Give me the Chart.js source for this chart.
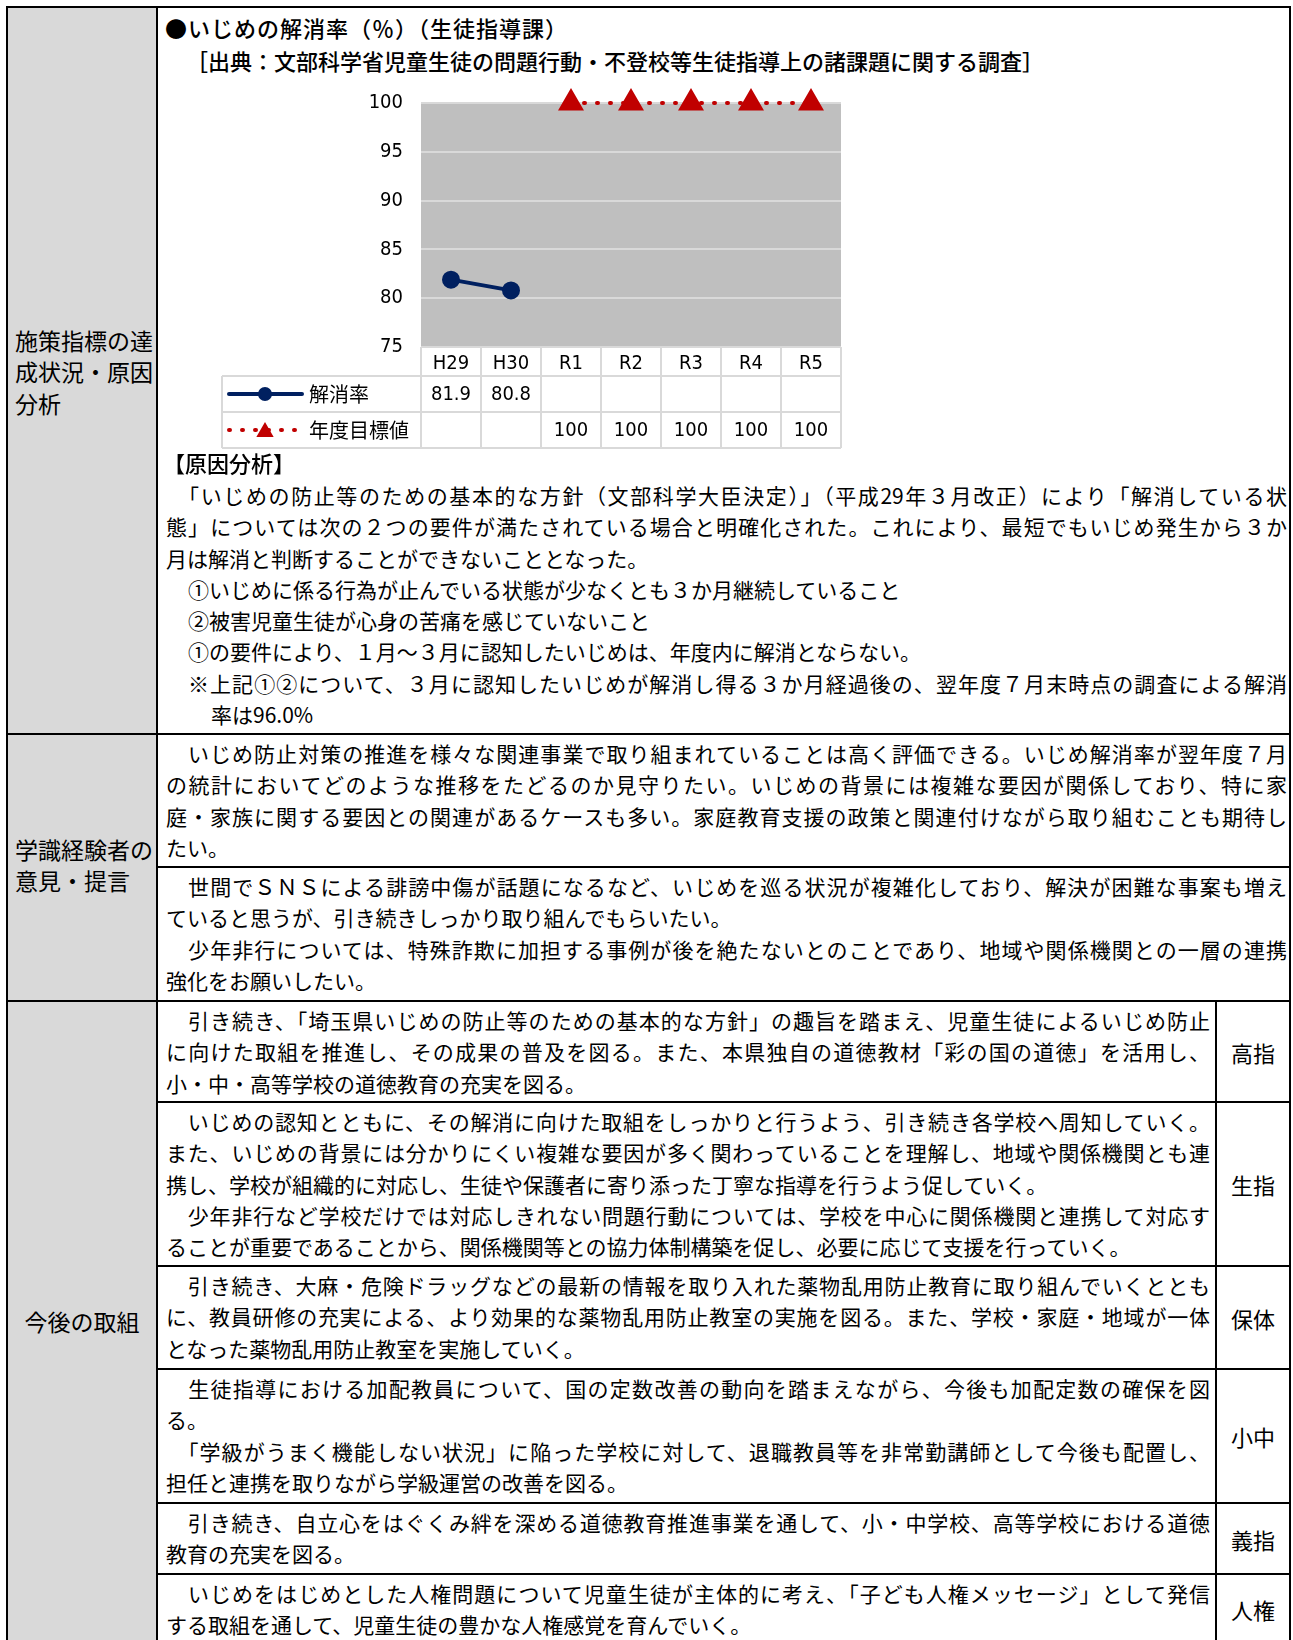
<!DOCTYPE html>
<html lang="ja">
<head>
<meta charset="utf-8">
<script src="https://cdn.jsdelivr.net/npm/chart.js@4.4.1/dist/chart.umd.min.js"></script>
<style>
  body { margin: 0; background: #fff; }
  #page { position: relative; width: 1293px; height: 1640px; overflow: hidden; background: #fff;
          font-family: "Noto Sans CJK JP", sans-serif; color: #000; }
  .ln-h, .ln-v { position: absolute; background: #000; }
  .side { position: absolute; left: 8px; top: 8px; width: 148px; height: 1640px; background: #d9d9d9; }
  .lab { position: absolute; font-size: 23px; line-height: 31.4px; }
  .txt { position: absolute; font-size: 21px; line-height: 31.3px; }
  .j { text-align: justify; text-align-last: justify; }
  .i1 { padding-left: 22px; }
  .i2 { padding-left: 45px; }
  .code { position: absolute; left: 1217px; width: 72px; display: flex; align-items: center;
          justify-content: center; font-size: 22px; }
  .head { position: absolute; font-size: 22px; font-weight: 500; line-height: 31px; white-space: nowrap; }
  #chart { position: absolute; left: 210px; top: 85px; }
</style>
</head>
<body>
<div id="page">
  <div class="side"></div>

  <!-- table rules -->
  <div class="ln-h" style="left:6px;top:6px;width:1285px;height:2px"></div>
  <div class="ln-h" style="left:6px;top:733px;width:1285px;height:2px"></div>
  <div class="ln-h" style="left:156px;top:866px;width:1135px;height:2px"></div>
  <div class="ln-h" style="left:6px;top:1000px;width:1285px;height:2px"></div>
  <div class="ln-h" style="left:156px;top:1101px;width:1135px;height:2px"></div>
  <div class="ln-h" style="left:156px;top:1265px;width:1135px;height:2px"></div>
  <div class="ln-h" style="left:156px;top:1368px;width:1135px;height:2px"></div>
  <div class="ln-h" style="left:156px;top:1502px;width:1135px;height:2px"></div>
  <div class="ln-h" style="left:156px;top:1573px;width:1135px;height:2px"></div>
  <div class="ln-v" style="left:6px;top:6px;width:2px;height:1640px"></div>
  <div class="ln-v" style="left:156px;top:6px;width:2px;height:1640px"></div>
  <div class="ln-v" style="left:1289px;top:6px;width:2px;height:1640px"></div>
  <div class="ln-v" style="left:1215px;top:1000px;width:2px;height:640px"></div>

  <!-- left column labels -->
  <div class="lab" style="left:15px;top:325px">施策指標の達<br>成状況・原因<br>分析</div>
  <div class="lab" style="left:15px;top:834px">学識経験者の<br>意見・提言</div>
  <div class="lab" style="left:8px;top:1306px;width:148px;text-align:center">今後の取組</div>

  <!-- row 1 -->
  <div class="head" style="left:165px;top:12px;letter-spacing:1px">●いじめの解消率（％）（生徒指導課）</div>
  <div class="head" style="left:186px;top:45px">［出典：文部科学省児童生徒の問題行動・不登校等生徒指導上の諸課題に関する調査］</div>
  <canvas id="chart" width="646" height="370"></canvas>
  <div class="head" style="left:163px;top:447px">【原因分析】</div>
  <div class="txt" style="left:166px;top:480px;width:1121px">
    <div class="j">　「いじめの防止等のための基本的な方針（文部科学大臣決定）」（平成29年３月改正）により「解消している状</div>
    <div class="j">態」については次の２つの要件が満たされている場合と明確化された。これにより、最短でもいじめ発生から３か</div>
    <div>月は解消と判断することができないこととなった。</div>
    <div class="i1">①いじめに係る行為が止んでいる状態が少なくとも３か月継続していること</div>
    <div class="i1">②被害児童生徒が心身の苦痛を感じていないこと</div>
    <div class="i1">①の要件により、１月～３月に認知したいじめは、年度内に解消とならない。</div>
    <div class="i1 j">※上記①②について、３月に認知したいじめが解消し得る３か月経過後の、翌年度７月末時点の調査による解消</div>
    <div class="i2">率は96.0%</div>
  </div>

  <!-- row 2 -->
  <div class="txt" style="left:166px;top:738px;width:1121px">
    <div class="j">　いじめ防止対策の推進を様々な関連事業で取り組まれていることは高く評価できる。いじめ解消率が翌年度７月</div>
    <div class="j">の統計においてどのような推移をたどるのか見守りたい。いじめの背景には複雑な要因が関係しており、特に家</div>
    <div class="j">庭・家族に関する要因との関連があるケースも多い。家庭教育支援の政策と関連付けながら取り組むことも期待し</div>
    <div>たい。</div>
  </div>
  <div class="txt" style="left:166px;top:871px;width:1121px">
    <div class="j">　世間でＳＮＳによる誹謗中傷が話題になるなど、いじめを巡る状況が複雑化しており、解決が困難な事案も増え</div>
    <div>ていると思うが、引き続きしっかり取り組んでもらいたい。</div>
    <div class="j">　少年非行については、特殊詐欺に加担する事例が後を絶たないとのことであり、地域や関係機関との一層の連携</div>
    <div>強化をお願いしたい。</div>
  </div>

  <!-- row 3 -->
  <div class="txt" style="left:166px;top:1005px;width:1044px">
    <div class="j">　引き続き、「埼玉県いじめの防止等のための基本的な方針」の趣旨を踏まえ、児童生徒によるいじめ防止</div>
    <div class="j">に向けた取組を推進し、その成果の普及を図る。また、本県独自の道徳教材「彩の国の道徳」を活用し、</div>
    <div>小・中・高等学校の道徳教育の充実を図る。</div>
  </div>
  <div class="code" style="top:1003px;height:98px">高指</div>
  <div class="txt" style="left:166px;top:1106px;width:1044px">
    <div class="j">　いじめの認知とともに、その解消に向けた取組をしっかりと行うよう、引き続き各学校へ周知していく。</div>
    <div class="j">また、いじめの背景には分かりにくい複雑な要因が多く関わっていることを理解し、地域や関係機関とも連</div>
    <div>携し、学校が組織的に対応し、生徒や保護者に寄り添った丁寧な指導を行うよう促していく。</div>
    <div class="j">　少年非行など学校だけでは対応しきれない問題行動については、学校を中心に関係機関と連携して対応す</div>
    <div>ることが重要であることから、関係機関等との協力体制構築を促し、必要に応じて支援を行っていく。</div>
  </div>
  <div class="code" style="top:1103px;height:162px">生指</div>
  <div class="txt" style="left:166px;top:1270px;width:1044px">
    <div class="j">　引き続き、大麻・危険ドラッグなどの最新の情報を取り入れた薬物乱用防止教育に取り組んでいくととも</div>
    <div class="j">に、教員研修の充実による、より効果的な薬物乱用防止教室の実施を図る。また、学校・家庭・地域が一体</div>
    <div>となった薬物乱用防止教室を実施していく。</div>
  </div>
  <div class="code" style="top:1267px;height:101px">保体</div>
  <div class="txt" style="left:166px;top:1373px;width:1044px">
    <div class="j">　生徒指導における加配教員について、国の定数改善の動向を踏まえながら、今後も加配定数の確保を図</div>
    <div>る。</div>
    <div class="j">　「学級がうまく機能しない状況」に陥った学校に対して、退職教員等を非常勤講師として今後も配置し、</div>
    <div>担任と連携を取りながら学級運営の改善を図る。</div>
  </div>
  <div class="code" style="top:1370px;height:132px">小中</div>
  <div class="txt" style="left:166px;top:1507px;width:1044px">
    <div class="j">　引き続き、自立心をはぐくみ絆を深める道徳教育推進事業を通して、小・中学校、高等学校における道徳</div>
    <div>教育の充実を図る。</div>
  </div>
  <div class="code" style="top:1504px;height:69px">義指</div>
  <div class="txt" style="left:166px;top:1578px;width:1044px">
    <div class="j">　いじめをはじめとした人権問題について児童生徒が主体的に考え、「子ども人権メッセージ」として発信</div>
    <div>する取組を通して、児童生徒の豊かな人権感覚を育んでいく。</div>
  </div>
  <div class="code" style="top:1575px;height:68px">人権</div>
</div>

<script>
const years = ['H29', 'H30', 'R1', 'R2', 'R3', 'R4', 'R5'];
const resolvedRate = [81.9, 80.8, null, null, null, null, null];
const targetRate = [null, null, 100, 100, 100, 100, 100];
const seriesNames = ['解消率', '年度目標値'];
const yMin = 75, yMax = 100, yStep = 5;

const NARROW = '"Liberation Sans Narrow", "DejaVu Sans Condensed", "Noto Sans CJK JP", sans-serif';
const JP = '"Noto Sans CJK JP", sans-serif';

// gray plot background
const plotBg = {
    id: 'plotBg',
    beforeDraw(chart) {
        const { ctx, chartArea: a } = chart;
        ctx.save();
        ctx.fillStyle = '#bfbfbf';
        ctx.fillRect(a.left, a.top, a.right - a.left, a.bottom - a.top);
        ctx.restore();
    }
};

// excel style data table under the plot
const dataTable = {
    id: 'dataTable',
    afterDraw(chart) {
        const { ctx, chartArea: a, scales: { x } } = chart;
        const n = chart.data.labels.length;
        const colW = (a.right - a.left) / n;
        const rows = [a.bottom, a.bottom + 29, a.bottom + 65, a.bottom + 101];
        const left = 12;

        ctx.save();
        ctx.strokeStyle = '#d9d9d9';
        ctx.lineWidth = 2;
        ctx.beginPath();
        ctx.moveTo(a.left, rows[0]); ctx.lineTo(a.right, rows[0]);
        for (let r = 1; r < rows.length; r++) {
            ctx.moveTo(left, rows[r]); ctx.lineTo(a.right, rows[r]);
        }
        ctx.moveTo(left, rows[1]); ctx.lineTo(left, rows[3]);
        for (let i = 0; i <= n; i++) {
            const px = i < n ? x.getPixelForValue(i) - colW / 2 : x.getPixelForValue(n - 1) + colW / 2;
            ctx.moveTo(px, rows[0]); ctx.lineTo(px, rows[3]);
        }
        ctx.stroke();

        chart.data.datasets.forEach((ds, r) => {
            const cy = (rows[r + 1] + rows[r + 2]) / 2;
            // legend key
            ctx.save();
            ctx.strokeStyle = ds.borderColor;
            ctx.lineWidth = ds.borderWidth;
            ctx.lineCap = 'round';
            ctx.setLineDash(ds.borderDash || []);
            ctx.beginPath();
            ctx.moveTo(19, cy); ctx.lineTo(92, cy);
            ctx.stroke();
            ctx.restore();
            ctx.fillStyle = ds.pointBackgroundColor;
            ctx.strokeStyle = ds.pointBackgroundColor;
            Chart.helpers.drawPoint(ctx, {
                pointStyle: ds.pointStyle,
                radius: ds.pointStyle === 'triangle' ? 8 : 6,
                rotation: 0,
                borderWidth: 1
            }, 55, cy + (ds.pointStyle === 'triangle' ? 2 : 0));

            ctx.fillStyle = '#000';
            ctx.textBaseline = 'middle';
            ctx.textAlign = 'left';
            ctx.font = '20px ' + JP;
            ctx.fillText(ds.label, 99, cy);

            ctx.textAlign = 'center';
            ctx.font = '20px ' + NARROW;
            ds.data.forEach((v, i) => {
                if (v === null) return;
                const txt = Number.isInteger(v) ? String(v) : v.toFixed(1);
                ctx.fillText(txt, x.getPixelForValue(i), cy + 1);
            });
        });
        ctx.restore();
    }
};

new Chart(document.getElementById('chart'), {
    type: 'line',
    data: {
        labels: years,
        datasets: [{
            label: seriesNames[0],
            data: resolvedRate,
            borderColor: '#002060',
            backgroundColor: '#002060',
            pointBackgroundColor: '#002060',
            pointBorderColor: '#002060',
            borderWidth: 4,
            pointStyle: 'circle',
            pointRadius: 7,
            spanGaps: false
        }, {
            label: seriesNames[1],
            data: targetRate,
            borderColor: '#c00000',
            backgroundColor: '#c00000',
            pointBackgroundColor: '#c00000',
            pointBorderColor: '#c00000',
            borderWidth: 4,
            borderDash: [1, 12],
            borderCapStyle: 'round',
            pointStyle: 'triangle',
            pointRadius: 11,
            clip: false
        }]
    },
    options: {
        responsive: false,
        animation: false,
        devicePixelRatio: 1,
        layout: { padding: { left: 0, top: 18, right: 10, bottom: 79 } },
        plugins: {
            legend: { display: false },
            tooltip: { enabled: false }
        },
        scales: {
            x: {
                offset: true,
                grid: { display: false, drawTicks: false },
                border: { display: false },
                ticks: { color: '#000', padding: 5, font: { size: 20, family: NARROW } },
                afterFit(scale) { scale.height = 29; }
            },
            y: {
                min: yMin,
                max: yMax,
                grid: { color: '#d9d9d9', lineWidth: 2, drawTicks: true, tickLength: 18, tickColor: 'rgba(0,0,0,0)' },
                border: { display: false },
                ticks: { stepSize: yStep, color: '#000', padding: 0, font: { size: 20, family: NARROW } },
                afterFit(scale) { scale.width = 211; }
            }
        }
    },
    plugins: [plotBg, dataTable]
});
</script>
</body>
</html>
